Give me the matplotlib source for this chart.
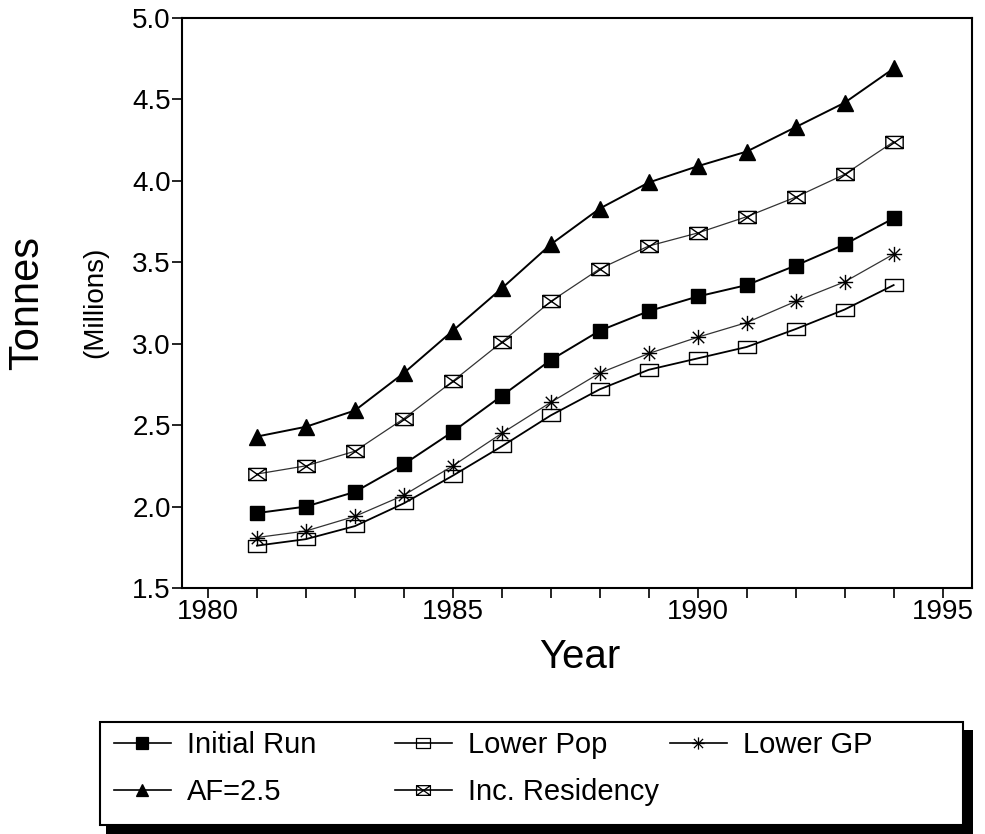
import matplotlib
matplotlib.use('Agg')
import matplotlib.pyplot as plt
from matplotlib.path import Path
from matplotlib.patches import Rectangle
from matplotlib.lines import Line2D

# Data
years = [1981, 1982, 1983, 1984, 1985, 1986, 1987, 1988, 1989, 1990, 1991, 1992, 1993, 1994]
af_25 = [2.43, 2.49, 2.59, 2.82, 3.08, 3.34, 3.61, 3.83, 3.99, 4.09, 4.18, 4.33, 4.48, 4.69]
inc_residency = [2.20, 2.25, 2.34, 2.54, 2.77, 3.01, 3.26, 3.46, 3.60, 3.68, 3.78, 3.90, 4.04, 4.24]
initial_run = [1.96, 2.00, 2.09, 2.26, 2.46, 2.68, 2.90, 3.08, 3.20, 3.29, 3.36, 3.48, 3.61, 3.77]
lower_gp = [1.81, 1.85, 1.94, 2.07, 2.25, 2.45, 2.64, 2.82, 2.94, 3.04, 3.13, 3.26, 3.38, 3.55]
lower_pop = [1.76, 1.80, 1.88, 2.02, 2.19, 2.37, 2.56, 2.72, 2.84, 2.91, 2.98, 3.09, 3.21, 3.36]

x_ticks = [1980, 1985, 1990, 1995]
y_ticks = [1.5, 2.0, 2.5, 3.0, 3.5, 4.0, 4.5, 5.0]

plt.rcParams['font.family'] = ['Liberation Sans', 'DejaVu Sans']

# custom markers
box = Path([(-1, -0.7), (1, -0.7), (1, 0.7), (-1, 0.7), (-1, -0.7)],
           [Path.MOVETO, Path.LINETO, Path.LINETO, Path.LINETO, Path.CLOSEPOLY])
box_x = Path([(-1, -0.7), (1, -0.7), (1, 0.7), (-1, 0.7), (-1, -0.7),
              (-1, -0.7), (1, 0.7), (-1, 0.7), (1, -0.7)],
             [Path.MOVETO, Path.LINETO, Path.LINETO, Path.LINETO, Path.CLOSEPOLY,
              Path.MOVETO, Path.LINETO, Path.MOVETO, Path.LINETO])
star = Path([(-1, 0), (1, 0), (0, -1), (0, 1), (-0.75, -0.75), (0.75, 0.75), (-0.75, 0.75), (0.75, -0.75)],
            [Path.MOVETO, Path.LINETO] * 4)

W, H = 985, 834
fig = plt.figure(figsize=(W / 100, H / 100), dpi=100)
ax = fig.add_axes([182 / W, 1 - 588 / H, 790 / W, 570 / H])

styles = {
    'Initial Run': dict(y=initial_run, marker='s', ms=10, mfc='black', lw=1.4, color='black'),
    'AF=2.5': dict(y=af_25, marker='^', ms=11, mfc='black', lw=1.4, color='black'),
    'Lower Pop': dict(y=lower_pop, marker=box, ms=12.5, mfc='none', lw=1.3, color='black'),
    'Inc. Residency': dict(y=inc_residency, marker=box_x, ms=12.5, mfc='none', lw=0.9, color='#333333'),
    'Lower GP': dict(y=lower_gp, marker=star, ms=11, mfc='none', lw=0.9, color='#333333'),
}

handles = {}
for name, s in styles.items():
    ln, = ax.plot(years, s['y'], color=s['color'], lw=s['lw'], marker=s['marker'],
                  ms=s['ms'], mfc=s['mfc'], mec='black', mew=1.0)
    handles[name] = ln

ax.set_xlim(1979.47, 1995.6)
ax.set_ylim(1.5, 5.0)
ax.set_xticks(x_ticks)
ax.set_xticks(range(1980, 1996), minor=True)
ax.set_yticks(y_ticks)
ax.set_yticklabels([f'{v:.1f}' for v in y_ticks])
ax.tick_params(which='both', direction='out', length=7, width=1.2, labelsize=20, pad=1)
for sp in ax.spines.values():
    sp.set_linewidth(1.5)

fig.text(27 / W, 1 - 303 / H, 'Tonnes', rotation=90, ha='center', va='center', fontsize=30)
fig.text(95 / W, 1 - 302 / H, '(Millions)', rotation=90, ha='center', va='center', fontsize=20)
fig.text(580 / W, 1 - 657 / H, 'Year', ha='center', va='center', fontsize=29)

# legend box with black shadow
fig.patches.append(Rectangle((106 / W, 0), 867 / W, 1 - 730 / H, transform=fig.transFigure,
                             facecolor='black', edgecolor='none', zorder=1))
fig.patches.append(Rectangle((100 / W, 1 - 825 / H), 863 / W, 103 / H, transform=fig.transFigure,
                             facecolor='white', edgecolor='black', lw=1.5, zorder=2))

entries = [('Initial Run', 114, 745), ('Lower Pop', 395, 745), ('Lower GP', 670, 745),
           ('AF=2.5', 114, 792), ('Inc. Residency', 395, 792)]
for name, px, py in entries:
    h = handles[name]
    proxy = Line2D([], [], color='black', lw=1.2, marker=h.get_marker(),
                   ms=h.get_markersize() * 0.8, mfc=h.get_markerfacecolor(), mec='black', mew=0.9)
    leg = fig.legend(handles=[proxy], labels=[name], loc='center left',
                     bbox_to_anchor=(px / W, 1 - py / H), frameon=False,
                     prop={'size': 21},
                     handlelength=1.95, handletextpad=0.55, borderpad=0, borderaxespad=0)
    leg.set_zorder(3)

fig.savefig('out.png', dpi=100)
